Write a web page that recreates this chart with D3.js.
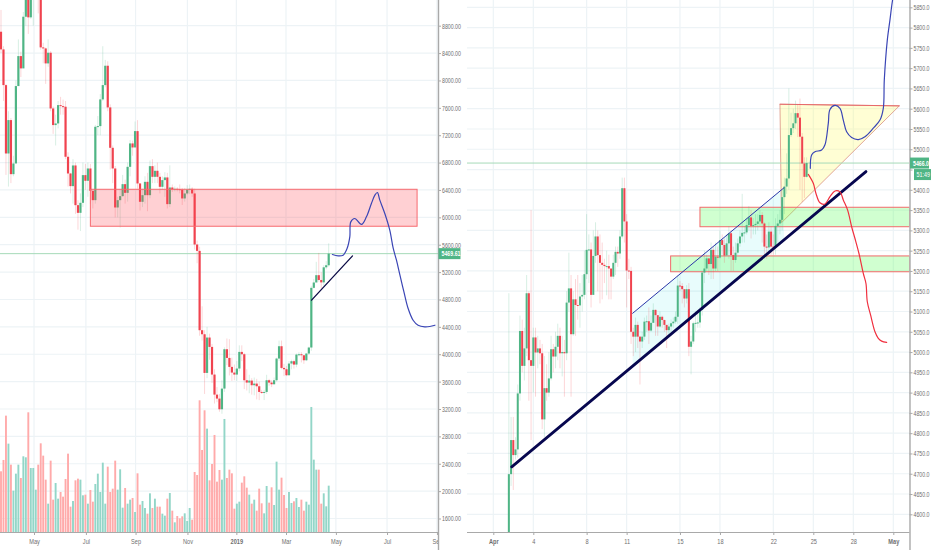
<!DOCTYPE html>
<html>
<head>
<meta charset="utf-8">
<script src="https://cdn.jsdelivr.net/npm/d3@7"></script>
<style>
  html, body { margin: 0; padding: 0; background: #fff; }
  svg { display: block; }
  text { font-family: "Liberation Sans", Arial, sans-serif; }
</style>
</head>
<body>
<svg id="chart" width="932" height="550"></svg>
<script>
// left chart, 3 day bars
var leftFirstOpen = 8712;
var leftClose = [
  8454,7932,6933,7421,6631,6787,7918,8356,8176,8931,
  9272,8922,9370,9500,9700,9600,8483,8468,8249,8405,
  7591,7348,7372,7640,7625,7616,6885,6641,6456,6758,
  6178,6066,6212,6617,6534,6714,6388,6251,7323,7333,
  7723,7932,8215,7606,7016,6714,6144,6251,6310,6485,
  6358,6738,7080,7021,7260,6495,6227,6324,6519,6324,
  6748,6592,6680,6592,6446,6544,6583,6193,6436,6407,
  6417,6412,6407,6276,6349,6407,6417,6349,5603,5510,
  4351,4292,3727,4244,4107,3703,3410,3352,3196,3498,
  4073,3946,3815,3732,3703,3791,4034,4000,3620,3586,
  3615,3547,3571,3532,3449,3440,3449,3620,3586,3561,
  3620,3937,4117,3800,3781,3693,3864,3898,3849,3995,
  4000,3985,3912,4010,4098,4970,5048,5155,5085,5050,
  5270,5300,5469
];
var leftHigh = [
  9030,8500,7950,7550,7450,6900,8000,8600,8420,9000,
  9350,9350,9420,9600,9800,9800,9650,8550,8480,8600,
  8430,7620,7500,7700,7760,7720,7700,6950,6650,6850,
  6800,6250,6350,6800,6780,6800,6780,6380,7350,7480,
  7800,8500,8300,8280,7650,7050,6750,6300,6400,6620,
  6550,6800,7130,7120,7400,7420,6500,6420,6600,6650,
  6830,6850,6760,6800,6650,6600,6660,6650,6760,6480,
  6450,6440,6480,6430,6430,6470,6480,6440,6420,5660,
  5570,4700,4350,4400,4300,4150,3780,3520,3420,3620,
  4100,4230,4220,3950,3850,3900,4130,4130,4020,3780,
  3700,3650,3660,3640,3600,3480,3480,3700,3640,3620,
  3660,3950,4200,4200,3860,3830,3900,3920,3920,4010,
  4030,4030,3980,4020,4110,5000,5100,5350,5480,5200,
  5300,5360,5620
];
var leftLow = [
  8400,7700,6620,6450,6500,6600,7750,8100,8050,8650,
  8800,8680,8900,8800,9350,8980,8450,8250,7950,8200,
  7550,7220,7050,7300,7500,7500,6850,6450,6350,6200,
  6050,5820,5800,6150,6400,6300,6200,6130,6200,7200,
  7200,7700,7900,7550,6700,6500,6000,6000,5850,6300,
  6200,6230,6600,6900,7100,6420,6100,6150,6200,6090,
  6280,6500,6500,6500,6350,6400,6300,6130,6150,6370,
  6380,6380,6350,6180,6230,6330,6340,6300,5530,5330,
  4270,4200,3420,3650,3920,3580,3280,3300,3160,3130,
  3450,3840,3690,3610,3620,3610,3750,3900,3490,3470,
  3430,3410,3400,3340,3330,3420,3330,3420,3540,3520,
  3560,3600,3900,3780,3680,3680,3690,3780,3790,3810,
  3970,3880,3860,3900,3990,4050,4960,5130,5060,4960,
  5000,5240,5280
];
var leftVolume = [
  182,216,349,265,202,124,175,202,162,227,
  224,359,192,192,127,202,266,229,157,85,
  214,97,147,100,120,106,159,235,76,93,
  155,160,157,110,112,85,126,91,144,175,
  120,208,85,196,120,130,214,127,188,73,
  132,85,97,102,60,176,82,93,72,55,
  116,72,100,76,76,55,49,100,117,64,
  29,48,41,47,56,33,72,37,180,171,
  395,246,365,310,155,204,291,151,186,157,
  339,162,187,176,70,85,91,148,167,133,
  112,85,97,64,130,86,56,138,88,134,
  81,211,127,163,111,72,120,87,92,102,
  75,97,64,91,82,375,217,187,187,85,
  116,77,139
];
var leftPriceTicks = [1600,2000,2400,2800,3200,3600,4000,4400,4800,5200,5600,6000,6400,6800,7200,7600,8000,8400,8800];
var leftTimeTicks = [13.3,34.2,54.2,75.1,94.8,114.8,134.9,155.5,175.6];
var leftTimeLabels = ["May","Jul","Sep","Nov","2019","Mar","May","Jul","Sep"];
var leftLastPrice = 5469.61;

// [bar, price]
var leftZone = [[36,6410],[167.6,5870]];
var leftTrend = [[125.1,4790],[141.6,5437]];
var leftPath = [
  [133.5,5457],[135.8,5437],[137.8,5447],[139.4,5545],[140.5,5715],[140.9,5934],
  [142.5,5983],[145.2,5896],[147.2,6008],[149.2,6202],[150.6,6324],[151.6,6363],
  [152.6,6251],[154.6,6056],[156.6,5813],[158,5545],[159.3,5374],[160.7,5155],
  [162.3,4911],[164,4668],[166,4497],[168,4424],[170.7,4400],[172.7,4405],[174.8,4424]
];

// right chart, 4 hour bars
var rightFirstOpen = 4100;
var rightClose = [
  4699,4783,4746,4760,4898,5052,4966,5009,5145,4980,
  4966,5036,4999,5009,4997,4834,4911,4900,4935,5007,
  4989,5013,5040,4997,5000,4997,5122,5157,5044,5130,
  5116,5115,5137,5141,5192,5252,5253,5141,5237,5285,
  5239,5220,5215,5212,5212,5206,5186,5220,5247,5243,
  5285,5404,5322,5201,5200,5050,5038,5067,5038,5026,
  5038,5075,5076,5053,5072,5104,5091,5063,5087,5079,
  5067,5054,5063,5071,5075,5087,5164,5163,5155,5132,
  5155,5013,5026,5071,5072,5073,5104,5196,5206,5231,
  5217,5252,5206,5235,5233,5276,5264,5238,5268,5293,
  5239,5227,5245,5268,5285,5294,5295,5313,5332,5311,
  5313,5316,5322,5338,5317,5260,5258,5297,5260,5258,
  5311,5317,5326,5382,5408,5428,5535,5552,5564,5589,
  5578,5531,5465,5432,5466
];
var rightHigh = [
  5145,4840,4840,4790,4920,5090,5080,5060,5190,5150,
  5350,5060,5060,5040,5030,5020,4990,4970,5000,5040,
  5020,5050,5070,5060,5040,5030,5150,5245,5190,5150,
  5180,5190,5170,5190,5250,5340,5290,5270,5300,5320,
  5300,5290,5270,5230,5250,5240,5200,5240,5260,5260,
  5300,5430,5430,5340,5230,5210,5060,5085,5075,5040,
  5050,5085,5090,5110,5090,5120,5105,5080,5100,5090,
  5080,5065,5070,5080,5085,5100,5190,5175,5170,5150,
  5165,5170,5040,5075,5100,5100,5110,5200,5250,5240,
  5230,5270,5260,5270,5260,5300,5290,5280,5290,5310,
  5300,5260,5270,5280,5300,5390,5310,5330,5360,5350,
  5330,5340,5340,5350,5345,5320,5290,5320,5310,5290,
  5330,5340,5350,5400,5430,5490,5650,5590,5600,5620,
  5610,5625,5540,5480,5480
];
var rightLow = [
  4100,4670,4660,4735,4740,4880,4950,4930,4990,4880,
  4783,4900,4890,4960,4970,4810,4790,4880,4890,4930,
  4950,4960,4980,4960,4940,4890,4980,5100,4890,5040,
  5040,5080,5060,5100,5130,5180,5170,5110,5150,5220,
  5150,5120,5130,5170,5140,5130,5130,5180,5190,5210,
  5230,5280,5270,5110,5180,5020,4990,5000,5010,4920,
  5010,5030,5050,5020,5050,5080,5040,5040,5060,5060,
  5050,5010,5040,5050,5060,5070,5070,5150,5120,5110,
  5120,4990,4945,5020,5050,5060,5060,5090,5170,5200,
  5190,5180,5180,5200,5200,5230,5240,5220,5240,5230,
  5200,5200,5220,5240,5260,5270,5270,5290,5300,5280,
  5290,5290,5300,5310,5270,5230,5230,5240,5240,5240,
  5240,5270,5290,5300,5340,5390,5400,5530,5540,5550,
  5530,5400,5370,5380,5430
];
var rightPriceTicks = [4600,4650,4700,4750,4800,4850,4900,4950,5000,5050,5100,5150,5200,5250,5300,5350,5400,5450,5500,5550,5600,5650,5700,5750,5800,5850];
var rightHiddenLabels = [5450]; // sits behind the countdown box
var rightTimeTicks = [-7,11,35,53,77,95,119,137,155,173];
var rightTimeLabels = ["Apr","4","8","11","15","18","22","25","28","May"];
var rightLastPrice = 5466.0;
var rightCountdown = "51:49";

var rightChannel = [[55.7,5095.6],[123.8,5405],[123.8,5276],[55.7,4965.6]];
var rightChannelTop = [[55.7,5095.6],[123.8,5405]];
var rightTriangle = [[122,5611],[175.7,5607],[122.7,5319]];
var rightZoneA = [[86,5357],[180.3,5309]];
var rightZoneB = [[72.8,5237],[180.3,5198]];
var rightTrend = [[1.3,4717],[160.7,5445]];
var rightBluePath = [
  [135.65,5453],[136.25,5486],[137.75,5494],[140.75,5498],[142.25,5511],[143.75,5564],
  [144.5,5598],[146.75,5608],[149,5601],[150.5,5572],[152,5543],[154.25,5529],
  [157.25,5524],[160.25,5531],[164,5552],[167,5572],[168.5,5601],[168.95,5671],
  [170.3,5769],[171.5,5819],[172.25,5852],[173,5880]
];
var rightRedPath = [
  [134.75,5438],[137,5416],[138.2,5391],[140,5368],[142.25,5365],[144.5,5383],
  [146.75,5397],[149,5395],[150.5,5375],[152.45,5350],[154.25,5309],[155.75,5280],
  [157.55,5243],[159.5,5194],[160.7,5169],[161.3,5124],[162.8,5091],[164.75,5050],
  [166.25,5034],[167.75,5027],[170,5024]
];

var UP = "#4fb585", DOWN = "#f0434f", UP_VOL = "#93d6c8", DOWN_VOL = "#ffaaaa";
var GRID = "#edf3f6", AXIS = "#a9a9a9", TEXT = "#6f6f6f", LAST = "#a6dab9", LABEL = "#4fb585";
var BOTTOM = 532;

var svg = d3.select("#chart");

function toCandles(first, close, high, low, volume) {
  return close.map(function(c, i) {
    return {
      i: i,
      o: i ? close[i - 1] : first,
      c: c,
      h: high[i],
      l: low[i],
      v: volume ? volume[i] : 0
    };
  });
}

// squeeze tick text, the reference is narrower than the font
function narrow(sel, ratio) {
  sel.each(function() {
    var t = d3.select(this);
    var x = +t.attr("x") || 0;
    t.attr("x", x / ratio).attr("transform", "scale(" + ratio + ",1)");
  });
}

function drawPanel(opt) {
  var x = opt.x, y = opt.y;
  var id = opt.id;
  var hidden = opt.hiddenLabels || [];

  svg.append("clipPath").attr("id", id + "-clip")
    .append("rect").attr("x", opt.left).attr("y", 0)
    .attr("width", opt.right - opt.left).attr("height", BOTTOM);
  svg.append("clipPath").attr("id", id + "-axis-clip")
    .append("rect").attr("x", opt.left).attr("y", 0)
    .attr("width", opt.right - opt.left).attr("height", 550);

  var g = svg.append("g");
  var plot = g.append("g").attr("clip-path", "url(#" + id + "-clip)");

  // grid
  plot.append("g").selectAll("line").data(opt.priceTicks).join("line")
    .attr("x1", opt.left).attr("x2", opt.right)
    .attr("y1", function(d) { return y(d); }).attr("y2", function(d) { return y(d); })
    .attr("stroke", GRID).attr("stroke-width", 1.2);
  plot.append("g").selectAll("line").data(opt.timeTicks).join("line")
    .attr("x1", function(d) { return x(d); }).attr("x2", function(d) { return x(d); })
    .attr("y1", 0).attr("y2", BOTTOM)
    .attr("stroke", GRID).attr("stroke-width", 1.2);

  opt.under(plot);

  // volume
  if (opt.yVol) {
    plot.append("g").selectAll("rect").data(opt.candles).join("rect")
      .attr("x", function(d) { return x(d.i) - opt.volWidth / 2; })
      .attr("width", opt.volWidth)
      .attr("y", function(d) { return opt.yVol(d.v); })
      .attr("height", function(d) { return BOTTOM - opt.yVol(d.v); })
      .attr("fill", function(d) { return d.c >= d.o ? UP_VOL : DOWN_VOL; });
  }

  // last price line
  plot.append("line")
    .attr("x1", opt.left).attr("x2", opt.right)
    .attr("y1", y(opt.last)).attr("y2", y(opt.last))
    .attr("stroke", LAST).attr("stroke-width", 1);

  // wicks
  plot.append("g").selectAll("line").data(opt.candles).join("line")
    .attr("x1", function(d) { return x(d.i); }).attr("x2", function(d) { return x(d.i); })
    .attr("y1", function(d) { return y(d.h); }).attr("y2", function(d) { return y(d.l); })
    .attr("stroke", function(d) { return d.c >= d.o ? UP : DOWN; })
    .attr("stroke-width", 1).attr("stroke-opacity", 0.22);

  // bodies
  plot.append("g").selectAll("rect").data(opt.candles).join("rect")
    .attr("x", function(d) { return x(d.i) - opt.bodyWidth / 2; })
    .attr("width", opt.bodyWidth)
    .attr("y", function(d) { return y(Math.max(d.o, d.c)); })
    .attr("height", function(d) { return Math.max(1, Math.abs(y(d.o) - y(d.c))); })
    .attr("fill", function(d) { return d.c >= d.o ? UP : DOWN; });

  opt.over(plot);

  // axes
  var priceAxis = d3.axisRight(y).tickValues(opt.priceTicks)
    .tickSize(3).tickPadding(1)
    .tickFormat(function(d) { return hidden.indexOf(d) >= 0 ? "" : d.toFixed(opt.decimals); });
  var gp = g.append("g").attr("transform", "translate(" + opt.right + ",0)").call(priceAxis);
  gp.select(".domain").remove();
  gp.selectAll("line").attr("stroke", AXIS);
  gp.selectAll("text").attr("fill", TEXT).attr("font-size", 7.5).call(narrow, opt.squeeze);

  var timeAxis = d3.axisBottom(x).tickValues(opt.timeTicks)
    .tickSize(3).tickPadding(4)
    .tickFormat(function(d, i) { return opt.timeLabels[i]; });
  var gt = g.append("g").attr("clip-path", "url(#" + id + "-axis-clip)")
    .append("g").attr("transform", "translate(0," + BOTTOM + ")").call(timeAxis);
  gt.select(".domain").remove();
  gt.selectAll("line").attr("stroke", AXIS);
  gt.selectAll("text").attr("fill", TEXT).attr("font-size", 7.5)
    .attr("font-weight", function(d, i) { return opt.boldLabels.indexOf(opt.timeLabels[i]) >= 0 ? 700 : 400; })
    .call(narrow, 0.75);

  g.append("line").attr("x1", opt.left).attr("x2", opt.right)
    .attr("y1", BOTTOM + 0.5).attr("y2", BOTTOM + 0.5)
    .attr("stroke", AXIS).attr("stroke-width", 1.2);
  g.append("line").attr("x1", opt.right + 0.5).attr("x2", opt.right + 0.5)
    .attr("y1", 0).attr("y2", 550)
    .attr("stroke", AXIS).attr("stroke-width", 1.4);

  // last price label
  g.append("rect").attr("x", opt.right + 0.5).attr("y", y(opt.last) - 5.5)
    .attr("width", opt.labelWidth).attr("height", 11).attr("fill", LABEL);
  g.append("text").attr("x", opt.right + 3.5).attr("y", y(opt.last) + 2.7)
    .attr("fill", "#fff").attr("font-size", 7.5).attr("font-weight", 700)
    .text(opt.last.toFixed(opt.lastDecimals)).call(narrow, opt.squeeze);

  return g;
}

function px(x, y, p) { return [x(p[0]), y(p[1])]; }

function zone(plot, x, y, z, fill, stroke) {
  plot.append("rect")
    .attr("x", x(z[0][0])).attr("y", y(z[0][1]))
    .attr("width", x(z[1][0]) - x(z[0][0]))
    .attr("height", y(z[1][1]) - y(z[0][1]))
    .attr("fill", fill).attr("stroke", stroke).attr("stroke-width", 1);
}

function pathLine(plot, x, y, pts, color, width, curve) {
  var line = d3.line()
    .x(function(d) { return x(d[0]); })
    .y(function(d) { return y(d[1]); });
  if (curve) line.curve(curve);
  plot.append("path").attr("d", line(pts))
    .attr("fill", "none").attr("stroke", color).attr("stroke-width", width)
    .attr("stroke-linecap", "round").attr("stroke-linejoin", "round");
}

// left panel
var xLeft = d3.scaleLinear().domain([0, 132]).range([1, 328.7]);
var yLeft = d3.scaleLinear().domain([1600, 8800]).range([518.5, 25.7]);
var yLeftVol = d3.scaleLinear().domain([0, 395]).range([BOTTOM, BOTTOM - 131.7]);

drawPanel({
  id: "left", left: 0, right: 438,
  x: xLeft, y: yLeft, yVol: yLeftVol,
  candles: toCandles(leftFirstOpen, leftClose, leftHigh, leftLow, leftVolume),
  priceTicks: leftPriceTicks, timeTicks: leftTimeTicks, timeLabels: leftTimeLabels,
  boldLabels: ["2019"],
  bodyWidth: 2.2, volWidth: 1.9, decimals: 2, lastDecimals: 2, squeeze: 0.7,
  last: leftLastPrice, labelWidth: 22,
  under: function(plot) {},
  over: function(plot) {
    zone(plot, xLeft, yLeft, leftZone, "rgba(255,60,70,0.24)", "#f76a70");
    pathLine(plot, xLeft, yLeft, leftTrend, "#0a0a45", 1.3);
    pathLine(plot, xLeft, yLeft, leftPath, "#3a45b5", 1.2, d3.curveCatmullRom);
  }
});

// right panel
var xRight = d3.scaleLinear().domain([-7, 173]).range([493.3, 893.3]);
var yRight = d3.scaleLinear().domain([4600, 5850]).range([514.3, 7.3]);

var gRight = drawPanel({
  id: "right", left: 467, right: 909.5,
  x: xRight, y: yRight,
  candles: toCandles(rightFirstOpen, rightClose, rightHigh, rightLow),
  priceTicks: rightPriceTicks, hiddenLabels: rightHiddenLabels,
  timeTicks: rightTimeTicks, timeLabels: rightTimeLabels,
  boldLabels: ["Apr", "May"],
  bodyWidth: 2, decimals: 1, lastDecimals: 1, squeeze: 0.7,
  last: rightLastPrice, labelWidth: 19,
  under: function(plot) {
    var poly = function(pts) { return pts.map(function(p) { return px(xRight, yRight, p).join(","); }).join(" "); };
    plot.append("polygon").attr("points", poly(rightChannel)).attr("fill", "rgba(0,225,225,0.09)");
    plot.append("polygon").attr("points", poly(rightTriangle))
      .attr("fill", "rgba(255,250,100,0.28)").attr("stroke", "#d9917f").attr("stroke-width", 0.8);
    pathLine(plot, xRight, yRight, rightTriangle.slice(0, 2), "#e8696c", 1);
    zone(plot, xRight, yRight, rightZoneA, "rgba(100,255,100,0.3)", "#f26a6a");
    zone(plot, xRight, yRight, rightZoneB, "rgba(100,255,100,0.3)", "#f26a6a");
  },
  over: function(plot) {
    pathLine(plot, xRight, yRight, rightChannelTop, "#2a35a8", 1);
    pathLine(plot, xRight, yRight, rightTrend, "#07074f", 2.8);
    pathLine(plot, xRight, yRight, rightBluePath, "#3a45b5", 1.2, d3.curveCatmullRom);
    pathLine(plot, xRight, yRight, rightRedPath, "#f0303f", 1.2, d3.curveCatmullRom);
  }
});

// countdown below the last price
gRight.append("rect").attr("x", 914).attr("y", yRight(rightLastPrice) + 6)
  .attr("width", 17).attr("height", 11).attr("fill", LABEL);
gRight.append("text").attr("x", 916.5).attr("y", yRight(rightLastPrice) + 14.3)
  .attr("fill", "#fff").attr("font-size", 7.5)
  .text(rightCountdown).call(narrow, 0.72);
</script>
</body>
</html>
